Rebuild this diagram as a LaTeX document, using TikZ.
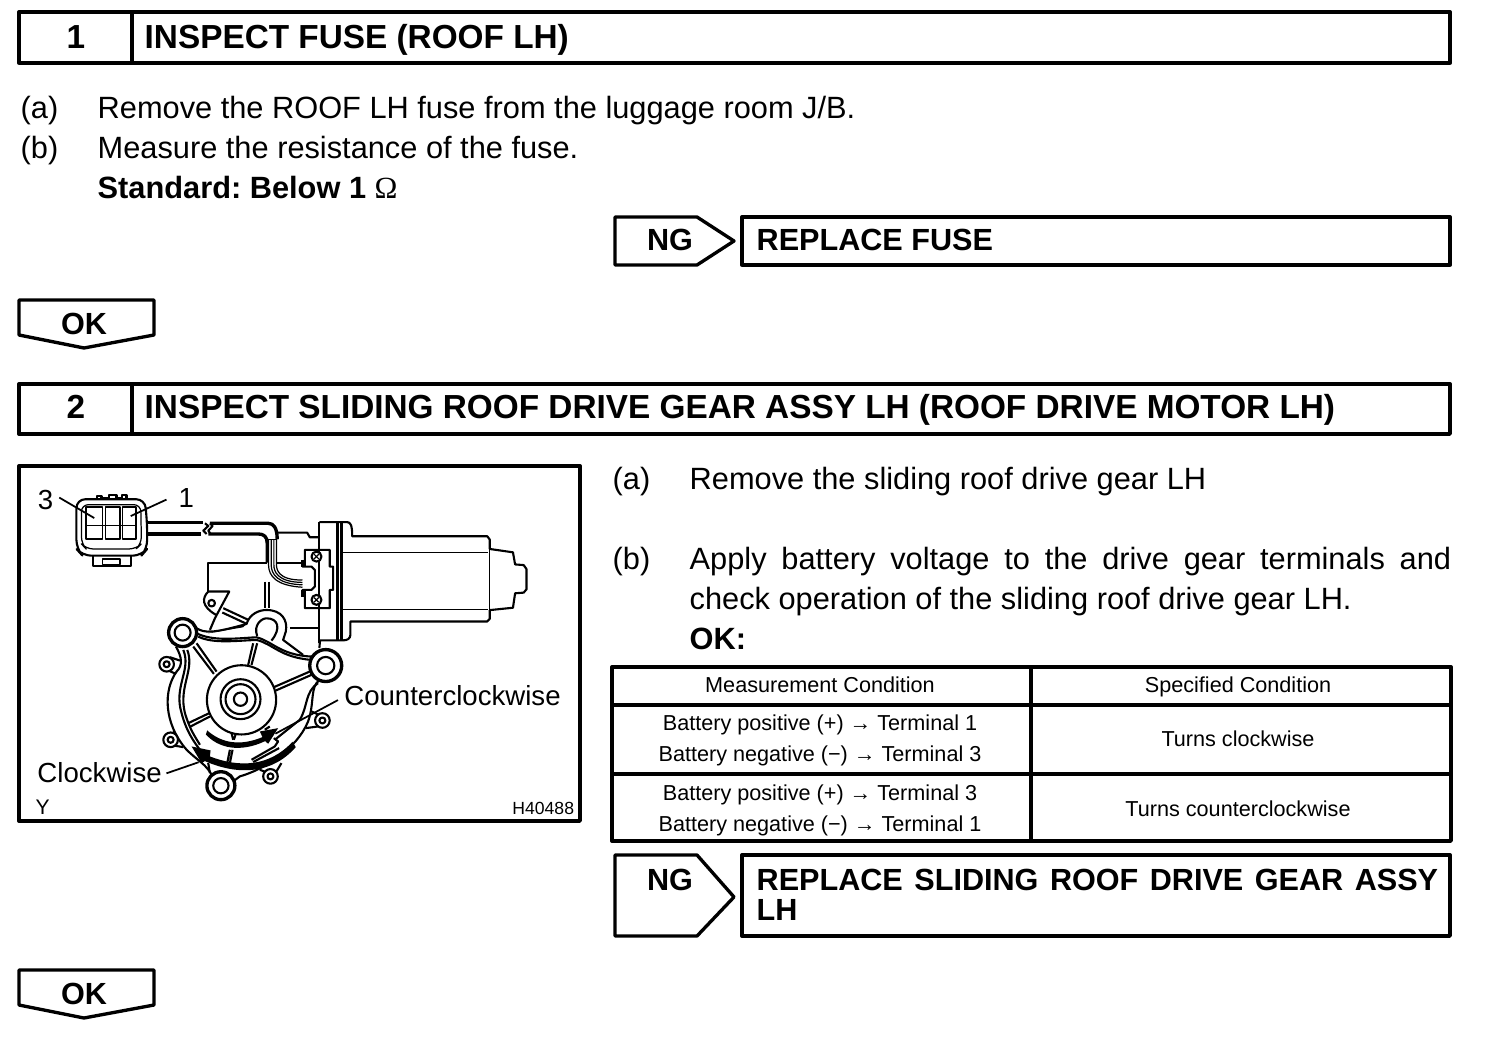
\documentclass[tikz,border=0pt]{standalone}
\usepackage{fontspec}
\setmainfont{Liberation Sans}
\newfontfamily\omegafont{Liberation Serif}
\usetikzlibrary{positioning}
\newcommand{\bodysize}{\fontsize{8.75}{11.4}\selectfont}
\newcommand{\headsize}{\fontsize{9.48}{8.6}\selectfont\bfseries}
\newcommand{\fixsize}{\fontsize{8.7}{8.55}\selectfont\bfseries}
\newcommand{\labelsize}{\fontsize{7.85}{9}\selectfont}
\newcommand{\cellsize}{\fontsize{6.15}{8.7}\selectfont}
\frenchspacing

\begin{document}
\begin{tikzpicture}[x=0.01cm, y=-0.01cm, line join=round,
      bodytxt/.style={anchor=base west, inner sep=0pt, font=\bodysize},
      headtxt/.style={anchor=base west, inner sep=0pt, font=\headsize},
      numtxt/.style={anchor=base, inner sep=0pt, font=\headsize},
      fixtxt/.style={anchor=base west, inner sep=0pt, font=\fixsize},
      tagtxt/.style={anchor=base, inner sep=0pt, font=\fixsize},
      labeltxt/.style={anchor=base west, inner sep=0pt, font=\labelsize},
      celltxt/.style={anchor=base, inner sep=0pt, font=\cellsize},
      frame/.style={line width=0.95pt},
      part/.style={line width=0.6pt},
      wire/.style={line width=0.35pt},
      lead/.style={line width=0.5pt}]
      \useasboundingbox (0,0) rectangle (1504,1058);
      % step 1
      \draw[frame] (19,12) rectangle (1450,63);
      \draw[frame] (132,12) -- (132,63);
      \node[numtxt] (num_1) at(76,49) {1};
      \node[headtxt] (head_1) at(144,49) {INSPECT FUSE (ROOF LH)};
      \node[bodytxt] (a_1) at(20,119) {(a)};
      \node[bodytxt] (a_1t) at(97,119) {Remove the ROOF LH fuse from the luggage room J/B.};
      \node[bodytxt] (b_1) at(20,159) {(b)};
      \node[bodytxt] (b_1t) at(97,159) {Measure the resistance of the fuse.};
      \node[bodytxt] (std_1) at(97,199) {\bfseries Standard: Below 1 {\omegafont\mdseries Ω}};
      % ng 1
      \draw[frame] (615,217) -- (697,217) -- (734,241) -- (697,265) -- (615,265) -- cycle;
      \node[tagtxt] (ng_1) at(670,251) {NG};
      \draw[frame] (742,217) rectangle (1450,265);
      \node[fixtxt] (fix_1) at(756,251) {REPLACE FUSE};
      % ok 1
      \draw[frame] (19,300) -- (154,300) -- (154,335) -- (84,348) -- (19,335) -- cycle;
      \node[tagtxt] (ok_1) at(84,334) {OK};
      % step 2
      \draw[frame] (19,384) rectangle (1450,434);
      \draw[frame] (132,384) -- (132,434);
      \node[numtxt] (num_2) at(76,418) {2};
      \node[headtxt] (head_2) at(144,418) {INSPECT SLIDING ROOF DRIVE GEAR ASSY LH (ROOF DRIVE MOTOR LH)};
      % picture
      \draw[frame] (19,466) rectangle (580,821);
      \begin{scope}[shift={(20,465)}, x=0.00357cm, y=-0.00336cm]
        % connector
        \draw[part, rounded corners=2.5pt] (158,102) -- (350,102) -- (356,180) -- (356,250) -- (340,270) -- (175,270) -- (158,250) -- cycle;
        \draw[wire, rounded corners=2pt] (172,118) -- (338,118) -- (340,235) -- (325,250) -- (185,250) -- (172,235) -- cycle;
        \draw[part] (215,102) -- (215,92) -- (228,92) -- (228,98) -- (248,98) -- (248,88) -- (270,88) -- (270,98) -- (285,98) -- (285,90) -- (298,90) -- (298,102);
        \draw[wire] (185,125) rectangle (232,220) (240,125) rectangle (280,220) (288,125) rectangle (325,220);
        \draw[wire] (185,180) -- (325,180);
        \draw[part] (205,270) -- (205,300) -- (310,300) -- (310,270);
        \draw[wire] (232,280) rectangle (280,296);
        \draw[frame] (356,172) -- (512,172) (356,205) -- (508,205);
        % motor body
        \draw[part] (838,170) -- (915,170) .. controls (925,170) and (930,178) .. (930,212) -- (1308,212) -- (1315,222) -- (1315,250) -- (1380,260) -- (1386,296) -- (1410,298) -- (1418,310) -- (1418,370) -- (1410,380) -- (1386,382) -- (1380,425) -- (1315,432) -- (1315,458) -- (1308,466) -- (925,466) -- (925,505) .. controls (925,518) and (915,522) .. (905,522) -- (840,522) -- (838,545);
        \draw[part] (838,170) -- (838,530);
        \draw[frame] (888,170) -- (888,522) (900,172) -- (900,522);
        \draw[wire] (900,260) -- (1310,260) (900,430) -- (1310,430) (1315,250) -- (1315,432);
      \end{scope}
      \begin{scope}[shift={(190,510)}, x=0.00333cm, y=-0.00333cm]
        % cable end and wires
        \draw[frame] (60,40) -- (235,40) .. controls (252,40) and (262,55) .. (262,88);
        \draw[frame] (55,72) -- (205,72) .. controls (222,72) and (232,80) .. (232,100) -- (232,158);
        \draw[part] (45,40) -- (55,48) -- (40,62) -- (50,72) (60,40) -- (68,48) -- (55,62) -- (62,72);
        \draw[wire] (232,88) -- (262,88);
        \foreach \dx in {0,8,16,24} {
          \draw[wire] (236+\dx,88) -- (236+\dx,165) .. controls (236+\dx,200-\dx) and (262,228-\dx*0.7) .. (338,232-\dx*0.9);
        }
        \draw[part] (262,68) -- (352,68) -- (360,82) -- (385,82);
        % cover
        \draw[part] (345,120) -- (420,120) -- (420,170) -- (430,170) -- (430,240) -- (420,240) -- (420,295) -- (345,295) -- (345,240) -- (338,240) -- (365,240) -- (375,230) -- (375,180) -- (365,170) -- (338,170) -- (345,170) -- cycle;
        \draw[part] (338,150) -- (338,170) (338,240) -- (338,260);
        \foreach \py in {140,270} {
          \draw[part, fill=white] (380,\py) circle (15);
          \draw[wire] (373,\py-7) -- (387,\py+7) (373,\py+7) -- (387,\py-7);
        }
        % frame
        \draw[part] (55,245) -- (55,158) -- (232,158);
        \draw[part] (262,158) -- (338,158);
        \draw[part] (225,215) -- (225,295) (238,215) -- (238,295);
        \draw[part] (300,355) -- (385,355);
        \draw[part] (55,245) -- (118,245) -- (75,325) -- (60,360);
        \draw[part] (55,245) .. controls (35,265) and (35,290) .. (78,315);
        \draw[part] (65,280) circle (10);
        \draw[part] (100,295) -- (175,330) (97,308) -- (170,342);
      \end{scope}
      \begin{scope}[shift={(150,600)}, x=0.00333cm, y=-0.00333cm]
        % gear case outline
        \draw[part] (78,140) .. controls (95,170) and (100,195) .. (80,215) .. controls (40,270) and (40,370) .. (110,450) .. controls (140,480) and (170,495) .. (185,525);
        \draw[part] (100,150) .. controls (125,210) and (70,260) .. (95,340) .. controls (110,400) and (140,440) .. (175,480);
        \draw[part] (112,150) .. controls (135,210) and (85,260) .. (105,340) .. controls (120,390) and (135,410) .. (150,435);
        \draw[part] (510,240) .. controls (480,260) and (495,310) .. (475,365) .. controls (440,450) and (340,510) .. (270,530) -- (250,545);
        \draw[part] (505,250) .. controls (465,275) and (475,320) .. (450,360) -- (375,420);
        \draw[part] (140,85) .. controls (165,100) and (190,100) .. (290,72) .. controls (300,40) and (330,30) .. (350,30) .. controls (395,30) and (415,60) .. (408,95) -- (400,120) -- (460,165);
        \draw[part] (140,100) .. controls (190,125) and (260,115) .. (320,112) .. controls (370,125) and (390,165) .. (485,170);
        \draw[part] (145,110) .. controls (190,132) and (260,122) .. (320,120) .. controls (370,132) and (390,172) .. (485,180);
        \draw[part] (322,108) .. controls (310,75) and (335,55) .. (350,55) .. controls (385,55) and (395,85) .. (365,122);
        \fill (175,100) -- (292,70) -- (280,82) -- cycle;
        % ribs
        \draw[part] (140,130) -- (200,215) (130,140) -- (192,222);
        \draw[part] (310,130) -- (295,195) (322,130) -- (305,195);
        \draw[part] (372,262) -- (480,215) (378,272) -- (485,225);
        \draw[part] (115,370) -- (178,340) (118,382) -- (180,350);
        \draw[part] (245,400) -- (250,420) (258,402) -- (252,420);
        \draw[part] (240,450) -- (232,490) (248,450) -- (240,490);
        \draw[part] (305,480) -- (375,440) -- (385,425) -- (372,415) (310,487) -- (388,445);
        \draw[part] (175,490) -- (180,520) (345,390) -- (360,380);
        % ear tabs
        \draw[part] (60,172) -- (90,182) (60,214) -- (78,222);
        \draw[part] (505,344) -- (486,335) (505,380) -- (468,385);
        \draw[part] (72,400) -- (72,392) (75,438) -- (100,442);
        \draw[part] (345,516) -- (330,510) (380,515) -- (395,490);
        % hub
        \draw[part, fill=white] (275,300) circle (104);
        \foreach \r in {60,45,20} {
          \draw[part] (272,298) circle (\r);
        }
        % lugs
        \foreach \px/\py in {50/193, 518/362, 62/420, 362/530} {
          \draw[part, fill=white] (\px,\py) circle (22);
          \draw[part] (\px,\py) circle (9);
        }
        \foreach \px/\py/\ro/\ri in {98/98/42/24, 528/197/48/26, 213/558/42/23} {
          \draw[frame, fill=white] (\px,\py) circle (\ro);
          \draw[part] (\px,\py) circle (\ri);
        }
        % turning arrows
        \fill (172,392) .. controls (215,430) and (270,440) .. (338,412) -- (330,395) -- (385,385) -- (355,432) -- (346,424) .. controls (270,460) and (205,445) .. (168,404) -- cycle;
        \fill (428,426) .. controls (360,500) and (270,505) .. (180,470) -- (182,452) -- (125,440) -- (155,490) -- (165,484) .. controls (270,530) and (370,520) .. (438,442) -- cycle;
      \end{scope}
      \begin{scope}[shift={(20,465)}, x=0.00357cm, y=-0.00336cm]
        % labels
        \node[labeltxt] (term_3) at(48,132) {3};
        \node[labeltxt] (term_1) at(442,126) {1};
        \coordinate (from_3) at(110,97);
        \coordinate (pin_3) at(208,158);
        \coordinate (from_1) at(410,103);
        \coordinate (pin_1) at(310,152);
        \draw[lead] (from_3) -- (pin_3);
        \draw[lead] (from_1) -- (pin_1);
        \node[labeltxt] (ccw) at(906,715) {Counterclockwise};
        \node[labeltxt] (cw) at(47,945) {Clockwise};
        \coordinate (ccw_from) at(890,700);
        \coordinate (ccw_end) at(715,800);
        \coordinate (cw_from) at(410,918);
        \coordinate (cw_end) at(500,885);
        \draw[lead] (ccw_from) -- (ccw_end);
        \draw[lead] (cw_from) -- (cw_end);
        \node[labeltxt, font=\fontsize{6}{7}\selectfont] (tag_y) at(42,1040) {Y};
        \node[labeltxt, anchor=base east, font=\fontsize{5}{6}\selectfont] (tag_h) at(1553,1040) {H40488};
      \end{scope}
      % step 2 text
      \node[bodytxt] (a_2) at(612,489) {(a)};
      \node[bodytxt] (a_2t) at(689,489) {Remove the sliding roof drive gear LH};
      \node[bodytxt] (b_2) at(612,569) {(b)};
      \node[bodytxt, text width=7.61cm, align=justify] (b_2t) at(689,569) {Apply battery voltage to the drive gear terminals and\linebreak check operation of the sliding roof drive gear LH.};
      \node[bodytxt] (ok_2t) at(689,649) {\bfseries OK:};
      % table
      \draw[frame] (612,667) rectangle (1451,841);
      \draw[frame] (1031,667) -- (1031,841);
      \draw[frame] (612,705) -- (1451,705);
      \draw[frame] (612,774) -- (1451,774);
      \node[celltxt] (c_11) at(820,692) {Measurement Condition};
      \node[celltxt] (c_12) at(1238,692) {Specified Condition};
      \node[celltxt] (c_21) at(820,730) {Battery positive (+) → Terminal 1};
      \node[celltxt] (c_21b) at(820,761) {Battery negative (−) → Terminal 3};
      \node[celltxt] (c_22) at(1238,746) {Turns clockwise};
      \node[celltxt] (c_31) at(820,800) {Battery positive (+) → Terminal 3};
      \node[celltxt] (c_31b) at(820,831) {Battery negative (−) → Terminal 1};
      \node[celltxt] (c_32) at(1238,816) {Turns counterclockwise};
      % ng 2
      \draw[frame] (615,855) -- (697,855) -- (734,897) -- (697,936) -- (615,936) -- cycle;
      \node[tagtxt] (ng_2) at(670,890) {NG};
      \draw[frame] (742,855) rectangle (1450,936);
      \node[fixtxt, text width=6.81cm, align=justify] (fix_2) at(756,890) {REPLACE SLIDING ROOF DRIVE GEAR ASSY\linebreak LH};
      % ok 2
      \draw[frame] (19,970) -- (154,970) -- (154,1005) -- (84,1018) -- (19,1005) -- cycle;
      \node[tagtxt] (ok_3) at(84,1004) {OK};
  \end{tikzpicture}
\end{document}
